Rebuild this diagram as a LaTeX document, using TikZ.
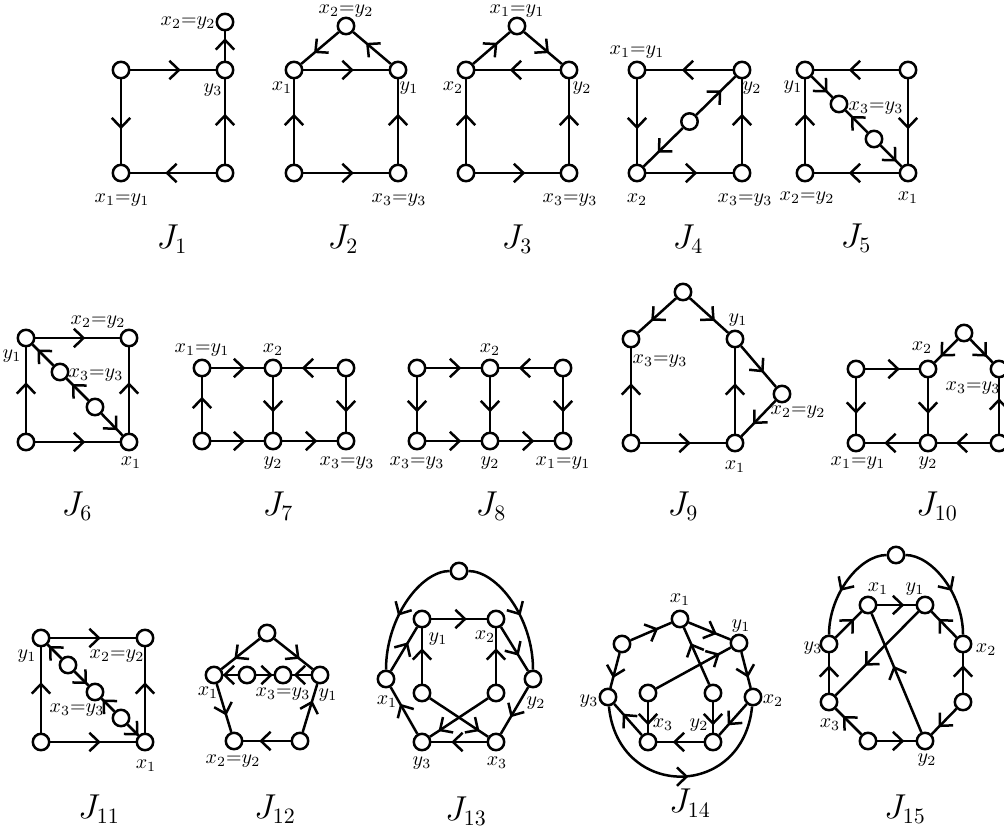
\documentclass[tikz,border=0pt]{standalone}
\usetikzlibrary{decorations.markings}
\begin{document}
\begin{tikzpicture}[x=0.5pt,y=-0.5pt,
  v/.style={circle, draw, fill=white, line width=1.25pt, minimum size=8.2pt, inner sep=0pt},
  e/.style={line width=1.25pt, postaction={decorate}, decoration={markings,
     mark=at position #1 with {\draw[line width=1.25pt] (-1.8pt,4.6pt) -- (3pt,0pt) -- (-1.8pt,-4.6pt);}}},
  e/.default=0.5,
  lab/.style={font=\fontsize{10}{11}\selectfont, inner sep=0pt},
  ttl/.style={font=\fontsize{16}{18}\selectfont, inner sep=0pt, anchor=base}]
\useasboundingbox (0,0) rectangle (1004,829);
\clip (0,0) rectangle (1004,829);
\newcommand{\eqlab}[2]{$#1{=}#2$}
% ---------- J1
\node[v] (a1) at (121,70) {};
\node[v] (a2) at (225,70) {};
\node[v] (a3) at (225,22) {};
\node[v] (a4) at (121,173) {};
\node[v] (a5) at (225,173) {};
\draw[e] (a1)--(a2); \draw[e] (a2)--(a3); \draw[e] (a5)--(a2);
\draw[e] (a5)--(a4); \draw[e] (a1)--(a4);
\node[lab] (a1l) at (188,23) {\eqlab{x_2}{y_2}};
\node[lab] (a2l) at (213,90) {$y_3$};
\node[lab] (a3l) at (122,200) {\eqlab{x_1}{y_1}};
\node[ttl] (J1) at (172,248) {$J_{1}$};
% ---------- J2
\node[v] (b1) at (346,26) {};
\node[v] (b2) at (294,70) {};
\node[v] (b3) at (398,70) {};
\node[v] (b4) at (294,173) {};
\node[v] (b5) at (398,173) {};
\draw[e] (b2)--(b3); \draw[e] (b3)--(b1); \draw[e] (b1)--(b2);
\draw[e] (b4)--(b2); \draw[e] (b5)--(b3); \draw[e] (b4)--(b5);
\node[lab] (b1l) at (346,11) {\eqlab{x_2}{y_2}};
\node[lab] (b2l) at (282,88) {$x_1$};
\node[lab] (b3l) at (409,88) {$y_1$};
\node[lab] (b4l) at (399,200) {\eqlab{x_3}{y_3}};
\node[ttl] (J2) at (343,248) {$J_{2}$};
% ---------- J3
\node[v] (c1) at (517,26) {};
\node[v] (c2) at (466,70) {};
\node[v] (c3) at (569,70) {};
\node[v] (c4) at (466,173) {};
\node[v] (c5) at (569,173) {};
\draw[e] (c2)--(c1); \draw[e] (c1)--(c3); \draw[e] (c3)--(c2);
\draw[e] (c4)--(c2); \draw[e] (c5)--(c3); \draw[e] (c4)--(c5);
\node[lab] (c1l) at (517,11) {\eqlab{x_1}{y_1}};
\node[lab] (c2l) at (453,88) {$x_2$};
\node[lab] (c3l) at (582,88) {$y_2$};
\node[lab] (c4l) at (570,200) {\eqlab{x_3}{y_3}};
\node[ttl] (J3) at (517,248) {$J_{3}$};
% ---------- J4
\node[v] (d1) at (637,70) {};
\node[v] (d2) at (742,70) {};
\node[v] (d3) at (637,173) {};
\node[v] (d4) at (742,173) {};
\node[v] (d5) at (689.5,121.5) {};
\draw[e] (d2)--(d1); \draw[e] (d1)--(d3); \draw[e] (d3)--(d4);
\draw[e] (d4)--(d2); \draw[e] (d5)--(d2); \draw[e] (d5)--(d3);
\node[lab] (d1l) at (637,52) {\eqlab{x_1}{y_1}};
\node[lab] (d2l) at (752,88) {$y_2$};
\node[lab] (d3l) at (637,200) {$x_2$};
\node[lab] (d4l) at (745,200) {\eqlab{x_3}{y_3}};
\node[ttl] (J4) at (688,248) {$J_{4}$};
% ---------- J5
\node[v] (f1) at (805,70) {};
\node[v] (f2) at (908,70) {};
\node[v] (f3) at (805,173) {};
\node[v] (f4) at (908,173) {};
\node[v] (f5) at (839,104) {};
\node[v] (f6) at (874,139) {};
\draw[e] (f2)--(f1); \draw[e] (f2)--(f4); \draw[e] (f4)--(f3); \draw[e] (f3)--(f1);
\draw[e] (f1)--(f5); \draw[e] (f6)--(f5); \draw[e] (f6)--(f4);
\node[lab] (f1l) at (793,87) {$y_1$};
\node[lab] (f2l) at (876,108) {\eqlab{x_3}{y_3}};
\node[lab] (f3l) at (807,198) {\eqlab{x_2}{y_2}};
\node[lab] (f4l) at (908,198) {$x_1$};
\node[ttl] (J5) at (856,247) {$J_{5}$};
% ---------- J6
\node[v] (g1) at (26,338) {};
\node[v] (g2) at (129,338) {};
\node[v] (g3) at (26,442) {};
\node[v] (g4) at (129,442) {};
\node[v] (g5) at (60,372) {};
\node[v] (g6) at (95,407) {};
\draw[e] (g1)--(g2); \draw[e] (g3)--(g4); \draw[e] (g3)--(g1); \draw[e] (g4)--(g2);
\draw[e] (g5)--(g1); \draw[e] (g6)--(g5); \draw[e] (g6)--(g4);
\node[lab] (g1l) at (98,322) {\eqlab{x_2}{y_2}};
\node[lab] (g2l) at (12,356) {$y_1$};
\node[lab] (g3l) at (96,375) {\eqlab{x_3}{y_3}};
\node[lab] (g4l) at (131,463) {$x_1$};
\node[ttl] (J6) at (77,515) {$J_{6}$};
% ---------- J7
\node[v] (h1) at (202,368) {};
\node[v] (h2) at (273,368) {};
\node[v] (h3) at (346,368) {};
\node[v] (h4) at (202,441) {};
\node[v] (h5) at (273,441) {};
\node[v] (h6) at (346,441) {};
\draw[e] (h1)--(h2); \draw[e] (h3)--(h2); \draw[e] (h2)--(h5); \draw[e] (h3)--(h6);
\draw[e] (h4)--(h1); \draw[e] (h4)--(h5); \draw[e] (h5)--(h6);
\node[lab] (h1l) at (202,350) {\eqlab{x_1}{y_1}};
\node[lab] (h2l) at (273,350) {$x_2$};
\node[lab] (h3l) at (273,463) {$y_2$};
\node[lab] (h4l) at (347,463) {\eqlab{x_3}{y_3}};
\node[ttl] (J7) at (278,515) {$J_{7}$};
% ---------- J8
\node[v] (i1) at (417,368) {};
\node[v] (i2) at (490,368) {};
\node[v] (i3) at (563,368) {};
\node[v] (i4) at (417,441) {};
\node[v] (i5) at (490,441) {};
\node[v] (i6) at (563,441) {};
\draw[e] (i1)--(i2); \draw[e] (i3)--(i2); \draw[e] (i1)--(i4); \draw[e] (i2)--(i5);
\draw[e] (i3)--(i6); \draw[e] (i4)--(i5); \draw[e] (i5)--(i6);
\node[lab] (i1l) at (490,350) {$x_2$};
\node[lab] (i2l) at (417,463) {\eqlab{x_3}{y_3}};
\node[lab] (i3l) at (490,463) {$y_2$};
\node[lab] (i4l) at (563,463) {\eqlab{x_1}{y_1}};
\node[ttl] (J8) at (491,515) {$J_{8}$};
% ---------- J9
\node[v] (k1) at (683,292) {};
\node[v] (k2) at (631,339) {};
\node[v] (k3) at (735,339) {};
\node[v] (k4) at (631,443) {};
\node[v] (k5) at (735,443) {};
\node[v] (k6) at (782,394) {};
\draw[e] (k1)--(k2); \draw[e] (k1)--(k3); \draw[e] (k4)--(k2); \draw[e] (k4)--(k5);
\draw[e] (k5)--(k3); \draw[e] (k3)--(k6); \draw[e] (k6)--(k5);
\node[lab] (k1l) at (660,361) {\eqlab{x_3}{y_3}};
\node[lab] (k2l) at (738,320) {$y_1$};
\node[lab] (k3l) at (798,412) {\eqlab{x_2}{y_2}};
\node[lab] (k4l) at (735,467) {$x_1$};
\node[ttl] (J9) at (683,515) {$J_{9}$};
% ---------- J10
\node[v] (l1) at (856,369) {};
\node[v] (l2) at (928,369) {};
\node[v] (l3) at (964,333) {};
\node[v] (l4) at (999,369) {};
\node[v] (l5) at (856,443) {};
\node[v] (l6) at (928,443) {};
\node[v] (l7) at (999,443) {};
\draw[e] (l1)--(l2); \draw[e] (l1)--(l5); \draw[e] (l2)--(l6); \draw[e] (l3)--(l2);
\draw[e] (l3)--(l4); \draw[e] (l7)--(l4); \draw[e] (l7)--(l6); \draw[e] (l6)--(l5);
\node[lab] (l1l) at (922,348) {$x_2$};
\node[lab] (l2l) at (973,388) {\eqlab{x_3}{y_3}};
\node[lab] (l3l) at (858,463) {\eqlab{x_1}{y_1}};
\node[lab] (l4l) at (928,463) {$y_2$};
\node[ttl] (J10) at (937,515) {$J_{10}$};
% ---------- J11
\node[v] (m1) at (41,638) {};
\node[v] (m2) at (145,638) {};
\node[v] (m3) at (41,742) {};
\node[v] (m4) at (145,742) {};
\node[v] (m5) at (68,665) {};
\node[v] (m6) at (95,692) {};
\node[v] (m7) at (121,718) {};
\draw[e] (m1)--(m2); \draw[e] (m3)--(m4); \draw[e] (m3)--(m1); \draw[e] (m4)--(m2);
\draw[e] (m5)--(m1); \draw[e] (m5)--(m6); \draw[e] (m7)--(m6); \draw[e] (m7)--(m4);
\node[lab] (m1l) at (27,656) {$y_1$};
\node[lab] (m2l) at (117,656) {\eqlab{x_2}{y_2}};
\node[lab] (m3l) at (77,710) {\eqlab{x_3}{y_3}};
\node[lab] (m4l) at (146,766) {$x_1$};
\node[ttl] (J11) at (99,818) {$J_{11}$};
% ---------- J12
\node[v] (n1) at (267,633) {};
\node[v] (n2) at (214,675) {};
\node[v] (n3) at (320,675) {};
\node[v] (n4) at (247,675) {};
\node[v] (n5) at (283,675) {};
\node[v] (n6) at (234,741) {};
\node[v] (n7) at (300,741) {};
\draw[e] (n1)--(n2); \draw[e] (n1)--(n3); \draw[e] (n2)--(n6); \draw[e] (n7)--(n6);
\draw[e] (n7)--(n3); \draw[e] (n4)--(n2); \draw[e] (n4)--(n5); \draw[e] (n3)--(n5);
\node[lab] (n1l) at (208,693) {$x_1$};
\node[lab] (n2l) at (283,694) {\eqlab{x_3}{y_3}};
\node[lab] (n3l) at (328,695) {$y_1$};
\node[lab] (n4l) at (233,761) {\eqlab{x_2}{y_2}};
\node[ttl] (J12) at (275,818) {$J_{12}$};
% ---------- J13
\node[v] (o1) at (459,571) {};
\node[v] (o2) at (422,619) {};
\node[v] (o3) at (496,619) {};
\node[v] (o4) at (386,679) {};
\node[v] (o5) at (533,679) {};
\node[v] (o6) at (422,693) {};
\node[v] (o7) at (496,693) {};
\node[v] (o8) at (422,742) {};
\node[v] (o9) at (496,742) {};
\draw[e] (o1) .. controls (421,571) and (386,617) .. (o4);
\draw[e] (o1) .. controls (497,571) and (533,617) .. (o5);
\draw[e] (o2)--(o3); \draw[e] (o4)--(o2); \draw[e] (o6)--(o2); \draw[e] (o7)--(o3);
\draw[e] (o3)--(o5); \draw[e] (o5)--(o9); \draw[e] (o9)--(o8); \draw[e] (o8)--(o4);
\draw[e=0.74] (o6)--(o9); \draw[e=0.74] (o7)--(o8);
\node[lab] (o1l) at (438,639) {$y_1$};
\node[lab] (o2l) at (485,637) {$x_2$};
\node[lab] (o3l) at (387,702) {$x_1$};
\node[lab] (o4l) at (536,703) {$y_2$};
\node[lab] (o5l) at (422,763) {$y_3$};
\node[lab] (o6l) at (497,763) {$x_3$};
\node[ttl] (J13) at (466,820) {$J_{13}$};
% ---------- J14
\node[v] (p1) at (680,619) {};
\node[v] (p2) at (622,644) {};
\node[v] (p3) at (739,643) {};
\node[v] (p4) at (608,697) {};
\node[v] (p5) at (753,697) {};
\node[v] (p6) at (648,693) {};
\node[v] (p7) at (713,693) {};
\node[v] (p8) at (648,742) {};
\node[v] (p9) at (713,742) {};
\draw[e] (p2)--(p1); \draw[e] (p1)--(p3); \draw[e] (p2)--(p4); \draw[e] (p3)--(p5);
\draw[e=0.76] (p6)--(p3); \draw[e=0.6] (p7)--(p1); \draw[e] (p6)--(p8); \draw[e] (p7)--(p9);
\draw[e] (p9)--(p8); \draw[e] (p5)--(p9); \draw[e] (p8)--(p4);
\draw[e] (p4) .. controls (618,800) and (743,800) .. (p5);
\node[lab] (p1l) at (680,600) {$x_1$};
\node[lab] (p2l) at (741,626) {$y_1$};
\node[lab] (p3l) at (589,701) {$y_3$};
\node[lab] (p4l) at (773,701) {$x_2$};
\node[lab] (p5l) at (663,725) {$x_3$};
\node[lab] (p6l) at (699,725) {$y_2$};
\node[ttl] (J14) at (690,812) {$J_{14}$};
% ---------- J15
\node[v] (q1) at (896,555) {};
\node[v] (q2) at (868,605) {};
\node[v] (q3) at (925,605) {};
\node[v] (q4) at (829,644) {};
\node[v] (q5) at (963,644) {};
\node[v] (q6) at (829,702) {};
\node[v] (q7) at (963,702) {};
\node[v] (q8) at (868,741) {};
\node[v] (q9) at (925,741) {};
\draw[e] (q1) .. controls (860,555) and (829,594) .. (q4);
\draw[e] (q1) .. controls (932,555) and (963,594) .. (q5);
\draw[e] (q2)--(q3); \draw[e] (q4)--(q2); \draw[e] (q5)--(q3); \draw[e] (q6)--(q4);
\draw[e] (q7)--(q5); \draw[e=0.58] (q3)--(q6); \draw[e] (q9)--(q2); \draw[e] (q8)--(q6);
\draw[e] (q8)--(q9); \draw[e] (q7)--(q9);
\node[lab] (q1l) at (878,589) {$x_1$};
\node[lab] (q2l) at (915,589) {$y_1$};
\node[lab] (q3l) at (813,648) {$y_3$};
\node[lab] (q4l) at (986,650) {$x_2$};
\node[lab] (q5l) at (830,725) {$x_3$};
\node[lab] (q6l) at (927,760) {$y_2$};
\node[ttl] (J15) at (905,818) {$J_{15}$};
\end{tikzpicture}
\end{document}
